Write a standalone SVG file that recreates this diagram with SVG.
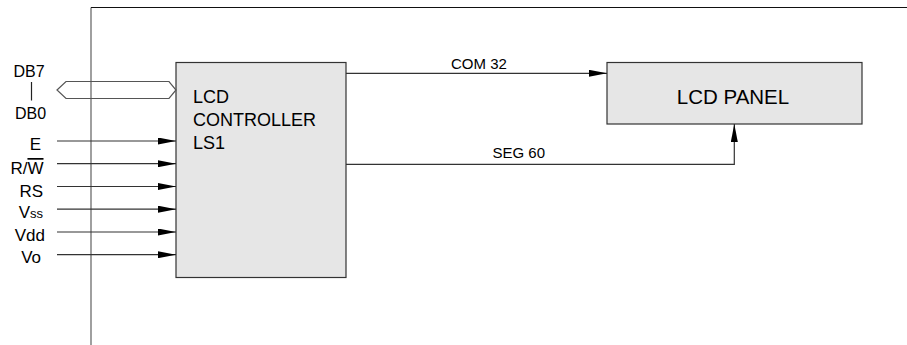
<svg xmlns="http://www.w3.org/2000/svg" width="907" height="345" viewBox="0 0 907 345">
<style>
text{font-family:"Liberation Sans",Arial,sans-serif;fill:#000}
.box{fill:#e6e6e6;stroke:#333;stroke-width:1.2}
.ln{fill:none;stroke:#333;stroke-width:1.2}
.frame{fill:none;stroke:#777;stroke-width:1.4}
.sig{font-size:17px;text-anchor:end}
</style>
<defs>
<marker id="ah" markerUnits="userSpaceOnUse" markerWidth="18" markerHeight="7" refX="18" refY="3.5" orient="auto">
<path d="M0,0 L18,3.5 L0,7 Z" fill="#000"/>
</marker>
</defs>
<g id="frame">
<line class="frame" x1="91" y1="345" x2="91" y2="7.5" style="stroke:#777"/>
<line x1="91" y1="7.5" x2="907" y2="7.5" stroke="#111" stroke-width="1.2"/>
</g>
<g id="controller">
<rect class="box" x="176" y="62.5" width="170" height="215"/>
<text x="193" y="103" font-size="18">LCD</text>
<text x="193" y="126" font-size="18">CONTROLLER</text>
<text x="193" y="149" font-size="18">LS1</text>
</g>
<g id="panel">
<rect class="box" x="607" y="62.5" width="255" height="61.5"/>
<text x="733" y="104" font-size="20.5" text-anchor="middle">LCD PANEL</text>
</g>
<g id="labels">
<text x="29" y="77" font-size="16" text-anchor="middle">DB7</text>
<line x1="31.5" y1="82" x2="31.5" y2="100.5" stroke="#222" stroke-width="1.2"/>
<text x="30.5" y="118.5" font-size="16" text-anchor="middle">DB0</text>
<text class="sig" x="41" y="149.5">E</text>
<text class="sig" x="43.5" y="174">R/<tspan text-decoration="overline">W</tspan></text>
<text class="sig" x="43" y="197">RS</text>
<text class="sig" x="43" y="218">V<tspan font-size="13">ss</tspan></text>
<text class="sig" x="45" y="240.5">Vdd</text>
<text class="sig" x="41" y="263">Vo</text>
<text x="451" y="69" font-size="15">COM 32</text>
<text x="492.5" y="158" font-size="15">SEG 60</text>
</g>
<g id="connectors">
<polygon points="57,90 66,81.5 169,81.5 176,90 169,98.5 66,98.5" fill="none" stroke="#555" stroke-width="1.2"/>
<line class="ln" x1="57" y1="141" x2="176" y2="141" marker-end="url(#ah)"/>
<line class="ln" x1="57" y1="163.7" x2="176" y2="163.7" marker-end="url(#ah)"/>
<line class="ln" x1="57" y1="186.5" x2="176" y2="186.5" marker-end="url(#ah)"/>
<line class="ln" x1="57" y1="209.2" x2="176" y2="209.2" marker-end="url(#ah)"/>
<line class="ln" x1="57" y1="232" x2="176" y2="232" marker-end="url(#ah)"/>
<line class="ln" x1="57" y1="254.7" x2="176" y2="254.7" marker-end="url(#ah)"/>
<line class="ln" x1="346" y1="73.3" x2="607" y2="73.3" marker-end="url(#ah)"/>
<polyline class="ln" points="346,164.3 734.3,164.3 734.3,124" marker-end="url(#ah)"/>
</g>
</svg>
